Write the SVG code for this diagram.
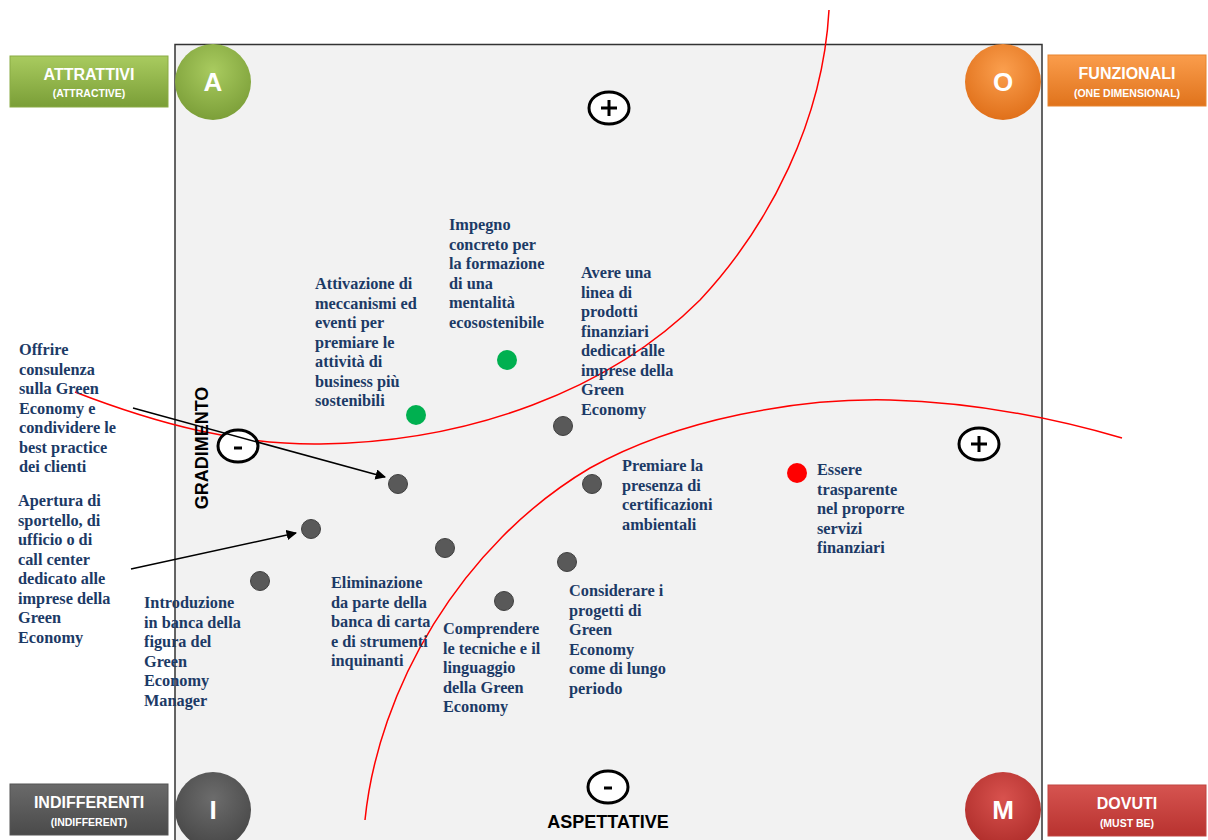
<svg xmlns="http://www.w3.org/2000/svg" width="1208" height="840" viewBox="0 0 1208 840">
<defs>
<style>
.t{font-family:"Liberation Serif","Times New Roman",serif;font-weight:bold;font-size:16.3px;fill:#1c3a66}
.bt{font-family:"Liberation Sans",Arial,sans-serif;font-weight:bold;fill:#ffffff;text-anchor:middle}
.big{font-size:16px}
.small{font-size:10.5px}
.let{font-family:"Liberation Sans",Arial,sans-serif;font-weight:bold;fill:#ffffff;font-size:26px;text-anchor:middle}
.pm{fill:#ffffff;stroke:#000;stroke-width:3}
.pms{stroke:#000;stroke-width:3;fill:none}
.gd{fill:#595959;stroke:#404040;stroke-width:1}
.ax{font-family:"Liberation Sans",Arial,sans-serif;font-weight:bold;font-size:18px;fill:#000}
.curve{fill:none;stroke:#ff0000;stroke-width:1.5}
.arr{stroke:#000;stroke-width:1.5;fill:none;marker-end:url(#ah)}
</style>
<marker id="ah" viewBox="0 0 10 10" refX="9" refY="5" markerWidth="7" markerHeight="7" orient="auto" markerUnits="strokeWidth">
<path d="M0,0 L10,5 L0,10 z" fill="#000"/>
</marker>
<linearGradient id="gG" x1="0" y1="0" x2="0" y2="1"><stop offset="0" stop-color="#a9cb5f"/><stop offset="1" stop-color="#7a9e37"/></linearGradient>
<linearGradient id="gO" x1="0" y1="0" x2="0" y2="1"><stop offset="0" stop-color="#fa9d4c"/><stop offset="1" stop-color="#e0731c"/></linearGradient>
<linearGradient id="gI" x1="0" y1="0" x2="0" y2="1"><stop offset="0" stop-color="#6a6a6a"/><stop offset="1" stop-color="#4a4a4a"/></linearGradient>
<linearGradient id="gM" x1="0" y1="0" x2="0" y2="1"><stop offset="0" stop-color="#d65450"/><stop offset="1" stop-color="#b8322f"/></linearGradient>
<radialGradient id="rG" cx="0.5" cy="0.35" r="0.65"><stop offset="0" stop-color="#a9cb5f"/><stop offset="1" stop-color="#7c9f39"/></radialGradient>
<radialGradient id="rO" cx="0.5" cy="0.35" r="0.65"><stop offset="0" stop-color="#fb9f4e"/><stop offset="1" stop-color="#e0701a"/></radialGradient>
<radialGradient id="rI" cx="0.5" cy="0.35" r="0.65"><stop offset="0" stop-color="#6c6c6c"/><stop offset="1" stop-color="#484848"/></radialGradient>
<radialGradient id="rM" cx="0.5" cy="0.35" r="0.65"><stop offset="0" stop-color="#d8524e"/><stop offset="1" stop-color="#b02e2b"/></radialGradient>
</defs>
<rect width="1208" height="840" fill="#ffffff"/>
<g id="frame">
<rect x="175" y="44.5" width="867" height="820" fill="#f2f2f2" stroke="#333333" stroke-width="1.5"/>
</g>
<g id="curves">
<path class="curve" d="M75,392 C160,425 240,445 320,444 C470,442 610,390 700,300 C770,225 823,120 829,10"/>
<path class="curve" d="M365,820 C378,690 460,545 590,468 C680,418 800,398 890,400 C960,402 1040,414 1122,438"/>
</g>
<g id="axes">
<g id="plus-top"><ellipse class="pm" cx="609" cy="108" rx="20" ry="16"/><path class="pms" d="M601,108 H617 M609,100 V116"/></g>
<g id="plus-right"><ellipse class="pm" cx="979" cy="444" rx="20" ry="16"/><path class="pms" d="M971,444 H987 M979,436 V452"/></g>
<g id="minus-left"><ellipse class="pm" cx="238" cy="446" rx="20" ry="16"/><path class="pms" d="M234,448 H242"/></g>
<g id="minus-bottom"><ellipse class="pm" cx="608" cy="787" rx="20" ry="16"/><path class="pms" d="M604,788 H612"/></g>
<text class="ax" x="608" y="828" text-anchor="middle">ASPETTATIVE</text>
<text class="ax" transform="translate(208,448) rotate(-90)" text-anchor="middle">GRADIMENTO</text>
</g>
<g id="quadrant-A">
<rect x="10" y="56" width="158" height="51" fill="url(#gG)" stroke="#8aab45" stroke-width="1"/>
<text class="bt big" x="89" y="80">ATTRATTIVI</text>
<text class="bt small" x="89" y="97">(ATTRACTIVE)</text>
<circle cx="213" cy="82" r="38" fill="url(#rG)"/>
<text class="let" x="213" y="91">A</text>
</g>
<g id="quadrant-O">
<rect x="1048" y="55" width="158" height="51" fill="url(#gO)" stroke="#e8842e" stroke-width="1"/>
<text class="bt big" x="1127" y="79">FUNZIONALI</text>
<text class="bt small" x="1127" y="97">(ONE DIMENSIONAL)</text>
<circle cx="1003" cy="82" r="38" fill="url(#rO)"/>
<text class="let" x="1003" y="91">O</text>
</g>
<g id="quadrant-I">
<rect x="10" y="784" width="158" height="51" fill="url(#gI)" stroke="#555" stroke-width="1"/>
<text class="bt big" x="89" y="808">INDIFFERENTI</text>
<text class="bt small" x="89" y="826">(INDIFFERENT)</text>
<circle cx="213" cy="810" r="38" fill="url(#rI)"/>
<text class="let" x="213" y="819">I</text>
</g>
<g id="quadrant-M">
<rect x="1048" y="785" width="158" height="51" fill="url(#gM)" stroke="#c04440" stroke-width="1"/>
<text class="bt big" x="1127" y="809">DOVUTI</text>
<text class="bt small" x="1127" y="827">(MUST BE)</text>
<circle cx="1003" cy="810" r="38" fill="url(#rM)"/>
<text class="let" x="1003" y="819">M</text>
</g>
<g id="connectors">
<line class="arr" x1="133" y1="408" x2="385" y2="477"/>
<line class="arr" x1="131" y1="569" x2="296" y2="533"/>
</g>
<g id="dots">
<circle class="gd" cx="563" cy="426" r="9.5"/>
<circle class="gd" cx="398" cy="484" r="9.5"/>
<circle class="gd" cx="592" cy="484" r="9.5"/>
<circle class="gd" cx="311" cy="529" r="9.5"/>
<circle class="gd" cx="445" cy="548" r="9.5"/>
<circle class="gd" cx="567" cy="562" r="9.5"/>
<circle class="gd" cx="260" cy="581" r="9.5"/>
<circle class="gd" cx="504" cy="601" r="9.5"/>
<circle cx="507" cy="360" r="10" fill="#00b050"/>
<circle cx="416" cy="415" r="10" fill="#00b050"/>
<circle cx="797" cy="473" r="10" fill="#ff0000"/>
</g>
<g id="label-offrire"><text class="t"><tspan x="19" y="355">Offrire</tspan><tspan x="19" dy="19.5">consulenza</tspan><tspan x="19" dy="19.5">sulla  Green</tspan><tspan x="19" dy="19.5">Economy e</tspan><tspan x="19" dy="19.5">condividere le</tspan><tspan x="19" dy="19.5">best practice</tspan><tspan x="19" dy="19.5">dei clienti</tspan></text></g>
<g id="label-apertura"><text class="t"><tspan x="18" y="506">Apertura  di</tspan><tspan x="18" dy="19.5">sportello, di</tspan><tspan x="18" dy="19.5">ufficio o di</tspan><tspan x="18" dy="19.5">call center</tspan><tspan x="18" dy="19.5">dedicato alle</tspan><tspan x="18" dy="19.5">imprese  della</tspan><tspan x="18" dy="19.5">Green</tspan><tspan x="18" dy="19.5">Economy</tspan></text></g>
<g id="label-introduzione"><text class="t"><tspan x="144" y="608">Introduzione</tspan><tspan x="144" dy="19.5">in banca della</tspan><tspan x="144" dy="19.5">figura  del</tspan><tspan x="144" dy="19.5">Green</tspan><tspan x="144" dy="19.5">Economy</tspan><tspan x="144" dy="19.5">Manager</tspan></text></g>
<g id="label-attivazione"><text class="t"><tspan x="315" y="289">Attivazione di</tspan><tspan x="315" dy="19.5">meccanismi ed</tspan><tspan x="315" dy="19.5">eventi per</tspan><tspan x="315" dy="19.5">premiare  le</tspan><tspan x="315" dy="19.5">attività di</tspan><tspan x="315" dy="19.5">business più</tspan><tspan x="315" dy="19.5">sostenibili</tspan></text></g>
<g id="label-impegno"><text class="t"><tspan x="449" y="230">Impegno</tspan><tspan x="449" dy="19.5">concreto per</tspan><tspan x="449" dy="19.5">la formazione</tspan><tspan x="449" dy="19.5">di una</tspan><tspan x="449" dy="19.5">mentalità</tspan><tspan x="449" dy="19.5">ecosostenibile</tspan></text></g>
<g id="label-avere"><text class="t"><tspan x="581" y="278">Avere una</tspan><tspan x="581" dy="19.5">linea  di</tspan><tspan x="581" dy="19.5">prodotti</tspan><tspan x="581" dy="19.5">finanziari</tspan><tspan x="581" dy="19.5">dedicati alle</tspan><tspan x="581" dy="19.5">imprese  della</tspan><tspan x="581" dy="19.5">Green</tspan><tspan x="581" dy="19.5">Economy</tspan></text></g>
<g id="label-premiare"><text class="t"><tspan x="622" y="471">Premiare la</tspan><tspan x="622" dy="19.5">presenza  di</tspan><tspan x="622" dy="19.5">certificazioni</tspan><tspan x="622" dy="19.5">ambientali</tspan></text></g>
<g id="label-essere"><text class="t"><tspan x="817" y="475">Essere</tspan><tspan x="817" dy="19.5">trasparente</tspan><tspan x="817" dy="19.5">nel proporre</tspan><tspan x="817" dy="19.5">servizi</tspan><tspan x="817" dy="19.5">finanziari</tspan></text></g>
<g id="label-eliminazione"><text class="t"><tspan x="331" y="588">Eliminazione</tspan><tspan x="331" dy="19.5">da parte della</tspan><tspan x="331" dy="19.5">banca di carta</tspan><tspan x="331" dy="19.5">e di strumenti</tspan><tspan x="331" dy="19.5">inquinanti</tspan></text></g>
<g id="label-comprendere"><text class="t"><tspan x="443" y="634">Comprendere</tspan><tspan x="443" dy="19.5">le tecniche e il</tspan><tspan x="443" dy="19.5">linguaggio</tspan><tspan x="443" dy="19.5">della Green</tspan><tspan x="443" dy="19.5">Economy</tspan></text></g>
<g id="label-considerare"><text class="t"><tspan x="569" y="596">Considerare i</tspan><tspan x="569" dy="19.5">progetti di</tspan><tspan x="569" dy="19.5">Green</tspan><tspan x="569" dy="19.5">Economy</tspan><tspan x="569" dy="19.5">come di lungo</tspan><tspan x="569" dy="19.5">periodo</tspan></text></g>
</svg>
